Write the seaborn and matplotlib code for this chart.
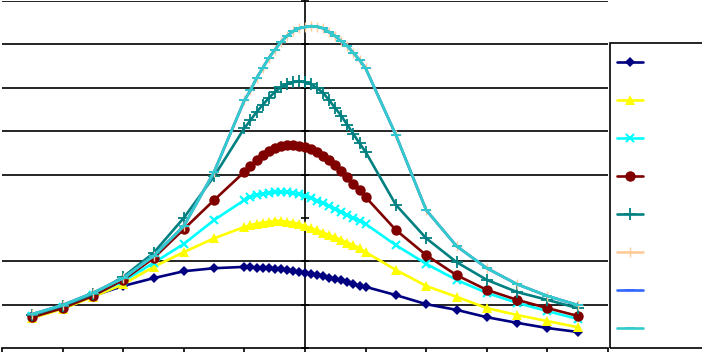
import numpy as np
import pandas as pd
import matplotlib
matplotlib.use("Agg")
import matplotlib.pyplot as plt
import matplotlib.patches as mpatches
import seaborn as sns

sns.set_theme(style="white")
plt.rcParams['font.family'] = ['DejaVu Sans']

# x positions (sparse outside, dense in the middle)
x_vals = [-4.5, -4.0, -3.5, -3.0, -2.5, -2.0, -1.5,
          -1.0, -0.9, -0.8, -0.7, -0.6, -0.5, -0.4, -0.3, -0.2, -0.1,
          0.0, 0.1, 0.2, 0.3, 0.4, 0.5, 0.6, 0.7, 0.8, 0.9, 1.0,
          1.5, 2.0, 2.5, 3.0, 3.5, 4.0, 4.5]

s1 = [0.74, 0.94, 1.20, 1.43, 1.61, 1.77, 1.84,
      1.87, 1.87, 1.85, 1.84, 1.84, 1.82, 1.81, 1.80, 1.77, 1.75,
      1.73, 1.71, 1.68, 1.66, 1.62, 1.59, 1.56, 1.52, 1.47, 1.44, 1.41,
      1.22, 1.01, 0.88, 0.71, 0.58, 0.46, 0.37]
s2 = [0.69, 0.90, 1.18, 1.47, 1.87, 2.21, 2.53,
      2.79, 2.83, 2.87, 2.89, 2.91, 2.93, 2.93, 2.91, 2.89, 2.86,
      2.81, 2.76, 2.72, 2.66, 2.60, 2.55, 2.49, 2.43, 2.37, 2.30, 2.21,
      1.80, 1.43, 1.18, 0.92, 0.76, 0.62, 0.48]
s3 = [0.74, 0.94, 1.22, 1.54, 1.96, 2.40, 2.95,
      3.41, 3.48, 3.53, 3.56, 3.58, 3.59, 3.59, 3.59, 3.57, 3.54,
      3.50, 3.46, 3.40, 3.34, 3.27, 3.20, 3.13, 3.06, 3.00, 2.93, 2.86,
      2.37, 1.94, 1.57, 1.27, 1.04, 0.85, 0.67]
s4 = [0.71, 0.92, 1.20, 1.57, 2.07, 2.74, 3.41,
      4.06, 4.19, 4.33, 4.45, 4.54, 4.61, 4.65, 4.68, 4.68, 4.65,
      4.63, 4.59, 4.52, 4.42, 4.33, 4.22, 4.08, 3.94, 3.78, 3.64, 3.48,
      2.72, 2.14, 1.68, 1.34, 1.11, 0.92, 0.74]
s5 = [0.76, 0.97, 1.24, 1.64, 2.19, 3.00, 3.96,
      5.07, 5.25, 5.44, 5.60, 5.76, 5.90, 6.01, 6.08, 6.13, 6.15,
      6.13, 6.08, 5.99, 5.88, 5.71, 5.53, 5.35, 5.14, 4.93, 4.72, 4.52,
      3.30, 2.53, 1.98, 1.57, 1.29, 1.11, 0.92]
s6 = [0.78, 0.99, 1.27, 1.61, 2.12, 2.81, 4.06,
      5.71, 5.94, 6.22, 6.45, 6.68, 6.87, 7.05, 7.19, 7.30, 7.37,
      7.40, 7.42, 7.41, 7.37, 7.28, 7.19, 7.07, 6.96, 6.80, 6.64, 6.45,
      4.91, 3.18, 2.35, 1.84, 1.47, 1.20, 0.99]
s7 = [0.78, 0.99, 1.27, 1.61, 2.12, 2.81, 4.06,
      5.71, 5.94, 6.22, 6.45, 6.68, 6.87, 7.05, 7.19, 7.30, 7.37,
      7.40, 7.42, 7.41, 7.37, 7.28, 7.19, 7.07, 6.96, 6.80, 6.64, 6.45,
      4.91, 3.18, 2.35, 1.84, 1.47, 1.20, 0.99]
s8 = [0.78, 0.99, 1.27, 1.61, 2.12, 2.81, 4.06,
      5.71, 5.94, 6.22, 6.45, 6.68, 6.87, 7.05, 7.19, 7.30, 7.37,
      7.40, 7.42, 7.41, 7.37, 7.28, 7.19, 7.07, 6.96, 6.80, 6.64, 6.45,
      4.91, 3.18, 2.35, 1.84, 1.47, 1.20, 0.99]

series_names = ["S1", "S2", "S3", "S4", "S5", "S6", "S7", "S8"]
series_values = [s1, s2, s3, s4, s5, s6, s7, s8]
x_ticks = [-5, -4, -3, -2, -1, 0, 1, 2, 3, 4, 5]
y_ticks = [0, 1, 2, 3, 4, 5, 6, 7, 8]
grid_levels = [1, 2, 4, 5, 6, 7, 8]

colors = ["#000080", "#FFFF00", "#00FFFF", "#800000", "#008080",
          "#FFCC99", "#3366FF", "#33CCCC"]
styles = [dict(marker="D", markersize=5.5, mew=0),
          dict(marker="^", markersize=7, mew=0),
          dict(marker="x", markersize=6, mew=1.5),
          dict(marker="o", markersize=7.5, mew=0),
          dict(marker="+", markersize=8, mew=1.3),
          dict(marker="+", markersize=7, mew=1.0),
          dict(marker="_", markersize=7, mew=1.3),
          dict(marker="_", markersize=7, mew=1.3)]

fig = plt.figure(figsize=(7.02, 3.52), dpi=100)
ax = fig.add_axes([2 / 702, 4 / 352, 606 / 702, 347 / 352])

ax.set_xlim(-5, 5)
ax.set_ylim(0, 8)
ax.grid(False)
for g in grid_levels:
    ax.axhline(g, color="black", lw=1.2, zorder=0.8)

for name, vals, col, st in zip(series_names, series_values, colors, styles):
    df = pd.DataFrame({"x": x_vals, "y": vals})
    sns.lineplot(data=df, x="x", y="y", ax=ax, color=col, lw=1.9,
                 marker=st["marker"], markersize=st["markersize"],
                 markeredgewidth=st["mew"], markeredgecolor=col,
                 markerfacecolor=col, label=name, legend=False,
                 sort=False, estimator=None)

ax.set_xlim(-5, 5)
ax.set_ylim(0, 8)
ax.set_xticks(x_ticks)
ax.set_yticks(y_ticks)
ax.set_xticklabels([])
ax.set_yticklabels([])
ax.set_xlabel("")
ax.set_ylabel("")
ax.grid(False)

for sp in ["top", "right"]:
    ax.spines[sp].set_visible(False)
ax.spines["bottom"].set_color("black")
ax.spines["bottom"].set_linewidth(1.2)
ax.spines["left"].set_position(("data", 0))
ax.spines["left"].set_color("black")
ax.spines["left"].set_linewidth(1.2)
ax.spines["left"].set_zorder(0.9)
ax.tick_params(axis="x", direction="out", length=4, width=1.2, color="black",
               bottom=True)
ax.tick_params(axis="y", direction="inout", length=6, width=1.2, color="black",
               left=True)

# legend box frame
frame = mpatches.Rectangle((610 / 702, 4 / 352), 100 / 702, 305 / 352,
                           transform=fig.transFigure, fill=False,
                           edgecolor="black", lw=1.2, clip_on=False)
fig.patches.append(frame)

handles, labels = ax.get_legend_handles_labels()
leg = fig.legend(handles, [" "] * len(handles), loc="upper left",
                 bbox_to_anchor=(617 / 702, 1 - 55.3 / 352),
                 borderaxespad=0, fontsize=10,
                 handlelength=1.9, handleheight=1.54, labelspacing=1.49,
                 borderpad=0, frameon=False)

fig.savefig("out.png", dpi=100, facecolor="white")
